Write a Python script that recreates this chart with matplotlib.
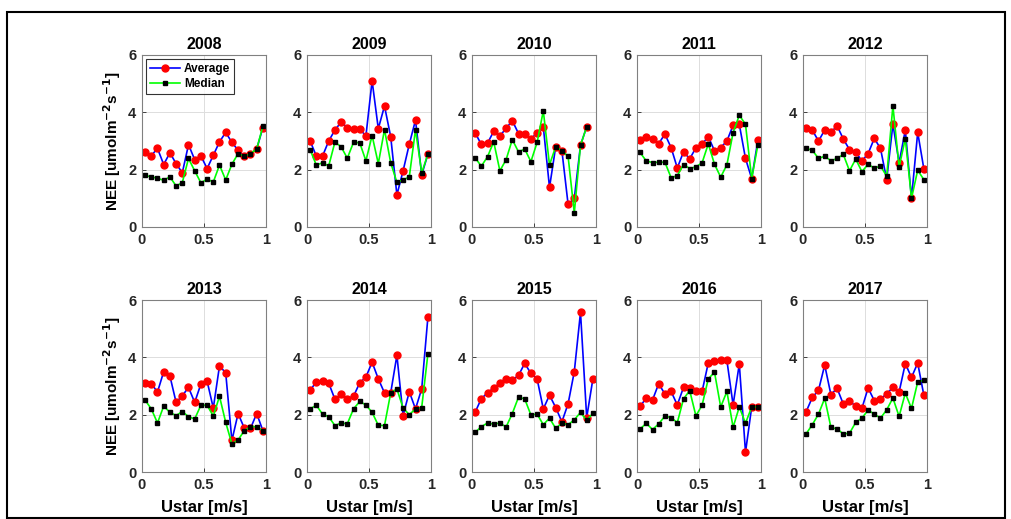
import numpy as np
import matplotlib
matplotlib.use("Agg")
import matplotlib.pyplot as plt
from matplotlib.patches import Rectangle

plt.rcParams['font.family'] = ['Liberation Sans', 'DejaVu Sans']
plt.rcParams['mathtext.default'] = 'bf'

# ustar bin centres [m/s]
ustar = [0.025, 0.075, 0.125, 0.175, 0.225, 0.275, 0.325, 0.375, 0.425, 0.475,
         0.525, 0.575, 0.625, 0.675, 0.725, 0.775, 0.825, 0.875, 0.925, 0.975]

years = ['2008', '2009', '2010', '2011', '2012',
         '2013', '2014', '2015', '2016', '2017']

nan = np.nan

avg_2008 = [2.62, 2.49, 2.74, 2.18, 2.59, 2.21, 1.89, 2.87, 2.35, 2.48,
            2.04, 2.50, 2.97, 3.30, 2.95, 2.68, 2.46, 2.55, 2.72, 3.47]
med_2008 = [1.80, 1.75, 1.70, 1.63, 1.75, 1.43, 1.55, 2.39, 1.96, 1.54,
            1.67, 1.57, 2.16, 1.64, 2.19, 2.56, 2.47, 2.56, 2.72, 3.52]

avg_2009 = [3.00, 2.48, 2.47, 3.00, 3.38, 3.66, 3.47, 3.41, 3.43, 3.17,
            5.10, 3.43, 4.22, 3.15, 1.12, 1.96, 2.89, 3.73, 1.82, 2.54]
med_2009 = [2.70, 2.16, 2.24, 2.13, 2.96, 2.80, 2.40, 2.95, 2.94, 2.31,
            3.19, 2.21, 3.40, 2.24, 1.56, 1.64, 1.75, 3.40, 1.89, 2.54]

avg_2010 = [3.29, 2.88, 2.92, 3.34, 3.18, 3.44, 3.71, 3.26, 3.26, 3.07,
            3.29, 3.50, 1.38, 2.80, 2.66, 0.79, 1.00, 2.85, 3.50, nan]
med_2010 = [2.42, 2.12, 2.45, 2.97, 1.96, 2.35, 3.05, 2.62, 2.72, 2.28,
            2.95, 4.05, 2.17, 2.80, 2.66, 2.46, 0.49, 2.85, 3.50, nan]

avg_2011 = [3.03, 3.13, 3.06, 2.91, 3.24, 2.77, 2.06, 2.62, 2.38, 2.76,
            2.89, 3.15, 2.66, 2.77, 3.00, 3.55, 3.58, 2.39, 1.69, 3.03]
med_2011 = [2.60, 2.30, 2.25, 2.26, 2.26, 1.72, 1.79, 2.18, 2.04, 2.10,
            2.24, 2.90, 2.19, 1.74, 2.17, 3.29, 3.90, 3.58, 1.69, 2.87]

avg_2012 = [3.47, 3.38, 3.00, 3.38, 3.30, 3.53, 3.07, 2.70, 2.62, 2.30,
            2.56, 3.09, 2.74, 1.65, 3.59, 2.24, 3.38, 1.00, 3.30, 2.02]
med_2012 = [2.74, 2.68, 2.39, 2.47, 2.31, 2.39, 2.53, 1.96, 2.37, 1.93,
            2.19, 2.05, 2.13, 1.77, 4.23, 2.09, 3.08, 1.00, 1.98, 1.65]

avg_2013 = [3.09, 3.08, 2.79, 3.50, 3.35, 2.43, 2.66, 2.95, 2.43, 3.07,
            3.17, 2.23, 3.70, 3.46, 1.10, 2.04, 1.53, 1.52, 2.04, 1.44]
med_2013 = [2.51, 2.20, 1.71, 2.30, 2.08, 1.97, 2.11, 1.93, 1.85, 2.33,
            2.33, 1.95, 2.64, 1.73, 0.98, 1.12, 1.44, 1.58, 1.58, 1.44]

avg_2014 = [2.85, 3.14, 3.16, 3.10, 2.54, 2.71, 2.56, 2.64, 3.11, 3.31,
            3.83, 3.25, 2.76, 2.76, 4.07, 1.97, 2.80, 2.20, 2.90, 5.40]
med_2014 = [2.20, 2.33, 2.02, 1.93, 1.62, 1.71, 1.68, 2.20, 2.46, 2.34,
            2.08, 1.63, 1.62, 2.76, 2.90, 2.23, 2.00, 2.20, 2.25, 4.12]

avg_2015 = [2.08, 2.56, 2.76, 2.93, 3.10, 3.26, 3.20, 3.37, 3.79, 3.44,
            3.25, 2.20, 2.68, 2.25, 1.75, 2.38, 3.50, 5.57, 1.90, 3.25]
med_2015 = [1.38, 1.58, 1.71, 1.67, 1.71, 1.57, 2.04, 2.61, 2.55, 1.99,
            2.02, 1.65, 1.88, 1.52, 1.71, 1.65, 1.82, 2.08, 1.80, 2.05]

avg_2016 = [2.29, 2.58, 2.51, 3.08, 2.72, 2.81, 2.34, 2.95, 2.94, 2.81,
            2.81, 3.81, 3.87, 3.89, 3.89, 2.34, 3.77, 0.69, 2.27, 2.27]
med_2016 = [1.50, 1.70, 1.48, 1.68, 1.95, 1.90, 1.72, 2.55, 2.84, 1.96,
            2.33, 3.25, 3.48, 2.27, 2.81, 1.56, 2.27, 1.70, 2.27, 2.27]

avg_2017 = [2.10, 2.60, 2.85, 3.73, 2.70, 2.92, 2.37, 2.46, 2.31, 2.22,
            2.93, 2.49, 2.54, 2.73, 2.95, 2.79, 3.78, 3.30, 3.80, 2.67]
med_2017 = [1.33, 1.65, 2.02, 2.57, 1.56, 1.50, 1.33, 1.35, 1.73, 1.88,
            2.16, 2.02, 1.88, 2.17, 2.58, 1.94, 2.75, 2.22, 3.14, 3.20]

averages = [avg_2008, avg_2009, avg_2010, avg_2011, avg_2012,
            avg_2013, avg_2014, avg_2015, avg_2016, avg_2017]
medians = [med_2008, med_2009, med_2010, med_2011, med_2012,
           med_2013, med_2014, med_2015, med_2016, med_2017]

W, H = 1012, 519
fig = plt.figure(figsize=(W / 100, H / 100), dpi=100)

# outer black frame
fig.patches.append(Rectangle((7 / W, 1 - 518 / H), 998 / W, 506 / H,
                             transform=fig.transFigure, fill=False,
                             edgecolor='black', linewidth=1.5))

lefts = [142, 307, 472, 637, 803]
row_bottoms = [227, 472]   # pixel y of the y=0 line
ax_w, ax_h = 124, 172

for i, year in enumerate(years):
    r, c = divmod(i, 5)
    ax = fig.add_axes([lefts[c] / W, 1 - row_bottoms[r] / H, ax_w / W, ax_h / H])
    ax.plot(ustar, averages[i], '-', color='#0000ff', linewidth=1.2,
            marker='o', markersize=5, markerfacecolor='red',
            markeredgecolor='red', label='Average')
    ax.plot(ustar, medians[i], '-', color='#00ff00', linewidth=1.2,
            marker='s', markersize=3, markerfacecolor='black',
            markeredgecolor='black', label='Median')
    ax.set_xlim(0, 1)
    ax.set_ylim(0, 6)
    ax.set_xticks([0, 0.5, 1])
    ax.set_xticklabels(['0', '0.5', '1'])
    ax.set_yticks([0, 2, 4, 6])
    ax.grid(True, color='#dddddd', linewidth=0.7)
    ax.set_axisbelow(True)
    ax.tick_params(direction='in', length=3, width=0.6, colors='#262626',
                   labelsize=10.5, pad=4)
    for lab in ax.get_xticklabels() + ax.get_yticklabels():
        lab.set_fontweight('bold')
    for sp in ax.spines.values():
        sp.set_color('#808080')
        sp.set_linewidth(0.8)
    ax.set_title(year, fontsize=11.5, fontweight='bold', pad=4)
    if c == 0:
        ax.set_ylabel('NEE [umolm$^{-2}$s$^{-1}$]', fontsize=11,
                      fontweight='bold', labelpad=4)
    if r == 1:
        ax.set_xlabel('Ustar [m/s]', fontsize=12, fontweight='bold', labelpad=6)
    if i == 0:
        leg = ax.legend(loc='upper left', fontsize=8.5, frameon=True,
                        fancybox=False, edgecolor='black', handlelength=2.6,
                        borderpad=0.3, labelspacing=0.3, handletextpad=0.3,
                        borderaxespad=0.35, prop={'weight': 'bold', 'size': 8.5})
        leg.get_frame().set_linewidth(0.8)

fig.savefig('out.png', dpi=100)
